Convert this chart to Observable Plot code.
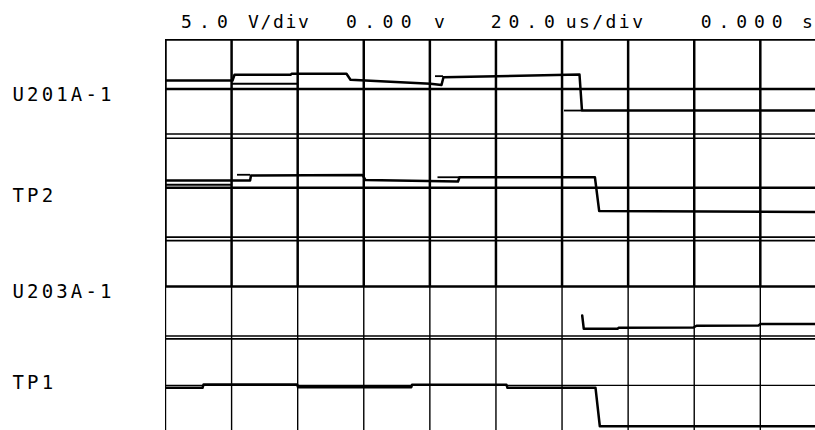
<!DOCTYPE html>
<html><head><meta charset="utf-8">
<script src="https://cdn.jsdelivr.net/npm/d3@7"></script>
<script src="https://cdn.jsdelivr.net/npm/@observablehq/plot@0.6"></script>
<style>
html,body{margin:0;padding:0;background:#fff;overflow:hidden;width:815px;height:430px}
#header svg,#chart svg{display:block}
</style></head>
<body><div id="header"></div><div id="chart"></div>
<script>
// ---- data ----
const headerTexts = ["5.0", "V/div", "0.00", "v", "20.0", "us/div", "0.000", "s"];
const channelNames = ["U201A-1", "TP2", "U203A-1", "TP1"];
const channelLevels = [14.43, 4.21, -5.5, -14.76];
const timeDivs = [0, 20, 40, 60, 80, 100, 120, 140, 160, 180, 200];
const voltDivs = [20, 15, 10, 5, 0, -5, -10, -15, -20];
const groundRefs = [10.43, -0.35, -10.3];

const u201aTime = [0, 20.28, 20.88, 37.83, 38.13, 54.77, 55.98, 80.19, 83.52, 84.12, 125.28, 126.04, 200];
const u201aVolt = [15.85, 15.85, 16.43, 16.43, 16.53, 16.53, 15.92, 15.52, 15.40, 16.18, 16.46, 12.81, 12.81];

const tp2Time = [0, 25.6, 25.87, 59.62, 60.52, 88.52, 88.97, 129.95, 131.24, 200];
const tp2Volt = [5.73, 5.73, 6.24, 6.29, 5.78, 5.63, 6.06, 6.06, 2.64, 2.54];

const u203aTime = [126.1, 126.58, 136.78, 137.09, 159.78, 160.69, 179.45, 180.06, 200];
const u203aVolt = [-7.93, -9.28, -9.28, -9.18, -9.15, -8.97, -8.94, -8.79, -8.79];

const tp1Time = [0, 11.2, 11.5, 39.85, 40.10, 74.38, 74.6, 103.19, 103.49, 130.13, 131.43, 200];
const tp1Volt = [-15.25, -15.25, -14.92, -14.92, -15.19, -15.19, -14.95, -14.95, -15.25, -15.25, -19.14, -19.14];

const ghostStart = [81.71, 120.74, 20.28, 21.79, 82.46, 0];
const ghostEnd   = [84.12, 126.04, 40.0, 25.72, 88.97, 20.28];
const ghostVolt  = [16.29, 12.81, 15.52, 6.31, 6.06, 5.30];

// ---- header ----
const headerX = [181, 248, 346, 434, 490.7, 565.7, 700.7, 802];
const headerPitch = [18, 12.5, 18.3, 0, 17.8, 13.3, 17.8, 0];
const hdr = d3.create("svg").attr("width", 815).attr("height", 37);
hdr.selectAll("text").data(headerTexts).join("text")
  .attr("x", (d, i) => headerX[i]).attr("y", 28)
  .attr("font-family", "DejaVu Sans Mono").attr("font-size", 18)
  .attr("fill", "#000")
  .each(function (d, i) {
    if (d.length > 1) {
      d3.select(this).attr("textLength", (d.length - 1) * headerPitch[i] + 10.8)
        .attr("lengthAdjust", "spacing");
    }
  })
  .text(d => d);
document.getElementById("header").append(hdr.node());

// ---- chart ----
const series = (name, ts, vs) => ts.map((t, i) => ({name, t, v: vs[i]}));
const traces = [
  ...series("U201A-1", u201aTime, u201aVolt),
  ...series("TP2", tp2Time, tp2Volt),
  ...series("U203A-1", u203aTime, u203aVolt),
  ...series("TP1", tp1Time, tp1Volt)
];
const ghosts = ghostStart.map((s, i) => ({s, e: ghostEnd[i], v: ghostVolt[i]}));
const labels = channelNames.map((n, i) => ({n, v: channelLevels[i]}));
const majorH = voltDivs.filter(v => v === 20 || v === 15 || v === 5 || v === -5);
const minorH = voltDivs.filter(v => v === 10 || v === 0 || v === -10);
const lowH = voltDivs.filter(v => v === -15);

const chart = Plot.plot({
  width: 815, height: 393,
  marginTop: 2, marginLeft: 165, marginRight: 0, marginBottom: 0,
  x: {domain: [0, 196.7], axis: null},
  y: {domain: [-19.57, 20], axis: null},
  style: {background: "white", fontFamily: "DejaVu Sans Mono"},
  marks: [
    Plot.ruleX(timeDivs, {x: d => d, y1: 20, y2: -5, stroke: "#000", strokeWidth: 2.5, clip: true}),
    Plot.ruleX(timeDivs, {x: d => d, y1: -5, y2: -19.57, stroke: "#000", strokeWidth: 1.4, clip: true}),
    Plot.ruleY(majorH, {y: d => d, x1: 0, x2: 200, stroke: "#000", strokeWidth: 2.5, clip: true}),
    Plot.ruleY(minorH, {y: d => d, x1: 0, x2: 200, stroke: "#000", strokeWidth: 1.6, clip: true}),
    Plot.ruleY(lowH, {y: d => d, x1: 0, x2: 200, stroke: "#000", strokeWidth: 1.3, clip: true}),
    Plot.ruleY(groundRefs, {y: d => d, x1: 0, x2: 200, stroke: "#000", strokeWidth: 1.6, clip: true}),
    Plot.ruleY(ghosts, {y: "v", x1: "s", x2: "e", stroke: "#000", strokeWidth: 1.8, clip: true}),
    Plot.line(traces, {x: "t", y: "v", z: "name", stroke: "#000", strokeWidth: 2.5, clip: true}),
    Plot.text(labels, {y: "v", text: "n", frameAnchor: "left", dx: -153, textAnchor: "start",
      fontSize: 19, fontFamily: "DejaVu Sans Mono", fill: "#000"})
  ]
});
// spread label glyphs to the plotter pitch (~14.6px per character)
d3.select(chart).selectAll('g[aria-label="text"] text').each(function () {
  const n = this.textContent.length;
  this.setAttribute("textLength", (n - 1) * 14.6 + 11.4);
  this.setAttribute("lengthAdjust", "spacing");
});
document.getElementById("chart").append(chart);
</script>
</body></html>
